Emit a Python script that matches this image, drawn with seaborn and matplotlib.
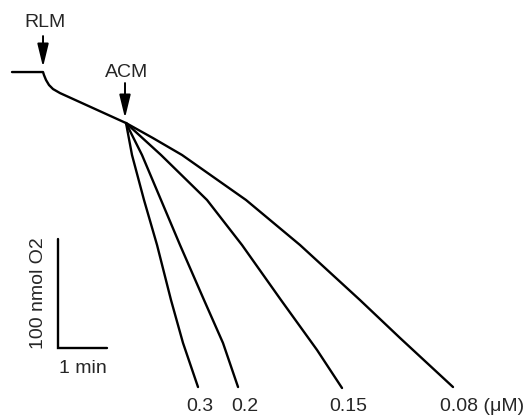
import pandas as pd
import numpy as np
import seaborn as sns
import matplotlib.pyplot as plt

# tempo em min, O2 em nmol (escala 1 min / 100 nmol)
t_base = [-0.633, 0.0, 0.020, 0.061, 0.122, 0.204, 0.347, 1.694]
o2_base = [400.0, 400.0, 397.2, 392.7, 388.1, 384.4, 380.7, 353.2]

concentracoes = ['0.3', '0.2', '0.15', '0.08']
t_acm = {
    '0.3': [1.694, 1.816, 2.061, 2.327, 2.612, 2.857, 3.163],
    '0.2': [1.694, 2.020, 2.408, 2.796, 3.286, 3.673, 3.980],
    '0.15': [1.694, 2.408, 3.347, 4.061, 4.857, 5.592, 6.102],
    '0.08': [1.694, 2.245, 2.837, 4.143, 5.245, 6.469, 7.286, 8.367],
}
o2_acm = {
    '0.3': [353.2, 323.9, 282.6, 241.3, 190.8, 151.4, 111.0],
    '0.2': [353.2, 323.9, 282.6, 241.3, 190.8, 151.4, 111.0],
    '0.15': [353.2, 323.9, 282.6, 241.3, 190.8, 145.0, 110.1],
    '0.08': [353.2, 339.4, 323.9, 282.6, 241.3, 190.8, 156.0, 111.0],
}
rotulos_t = [3.204, 4.122, 6.224, 8.102]
rotulos_txt = ['0.3', '0.2', '0.15', '0.08 (\u03bcM)']

# monta dataframe longo
linhas = [pd.DataFrame({'t': t_base, 'o2': o2_base, 'traco': 'base'})]
for c in concentracoes:
    linhas.append(pd.DataFrame({'t': t_acm[c], 'o2': o2_acm[c], 'traco': c}))
df = pd.concat(linhas, ignore_index=True)

sns.set_theme(style='white')
plt.rcParams['font.family'] = ['Liberation Sans', 'DejaVu Sans']

fig = plt.figure(figsize=(5.29, 4.17), dpi=100)
ax = fig.add_axes([0, 0, 1, 1])

sns.lineplot(
    data=df, x='t', y='o2', units='traco', estimator=None, sort=False,
    color='black', linewidth=1.7, ax=ax
)
for ln in ax.lines:
    ln.set_solid_joinstyle('round')

ax.set_xlim(-0.878, 9.918)
ax.set_ylim(83.5, 466.1)
ax.axis('off')

fs = 14
seta = dict(arrowstyle='-|>,head_length=0.7,head_width=0.17', color='black',
            lw=1.4, mutation_scale=20, shrinkA=0, shrinkB=0)

# adicoes
ax.annotate('', xy=(0.0, 404.6), xytext=(0.0, 433.0), arrowprops=seta)
ax.text(0.04, 445.9, 'RLM', ha='center', va='center', fontsize=fs)
ax.annotate('', xy=(1.673, 357.8), xytext=(1.673, 389.9), arrowprops=seta)
ax.text(1.71, 400.0, 'ACM', ha='center', va='center', fontsize=fs)

# barra de escala
ax.plot([0.306, 0.306, 1.306], [246.8, 146.8, 146.8], color='black', lw=1.7,
        solid_joinstyle='miter')
ax.text(-0.1, 196.8, '100 nmol O2', rotation=90, ha='center', va='center', fontsize=fs)
ax.text(0.816, 128.0, '1 min', ha='center', va='center', fontsize=fs)

for xt, txt in zip(rotulos_t, rotulos_txt):
    ax.text(xt, 92.7, txt, ha='left' if 'M' in txt else 'center', va='center', fontsize=fs)

fig.savefig('out.png', dpi=100, facecolor='white')
